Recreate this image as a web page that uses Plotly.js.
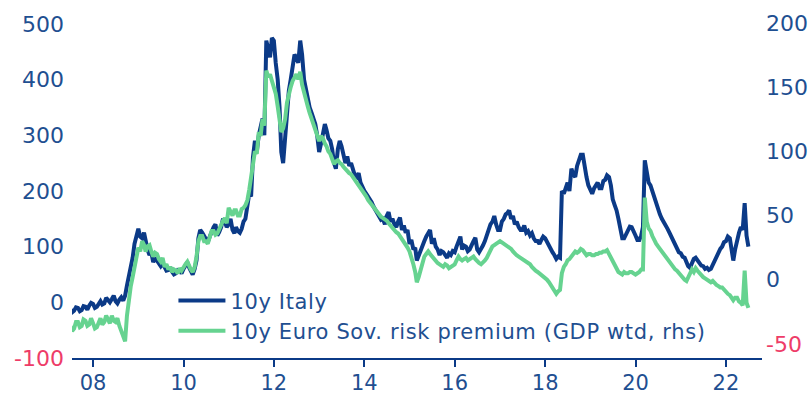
<!DOCTYPE html>
<html>
<head>
<meta charset="utf-8">
<script src="https://cdn.plot.ly/plotly-3.0.1.min.js"></script>
<style>
html,body{margin:0;padding:0;background:#fff;}
#chart{width:811px;height:396px;}
#chart .legendtext{letter-spacing:0.65px;}
#chart .legend .scrollbox{clip-path:none;}
</style>
</head>
<body>
<div id="chart"></div>
<script>
// Semi-monthly observations (1st and 16th of each month), Jul 2007 .. Jul 2022
const startMonth = "2007-07";
const italy10y = [
  -12,-18, -15,-9, -10,-16, -14,-7, -8,-13, -6,-1,                       // 2007 Jul-Dec
  -3,-10, -8,-2, 2,-4, -2,8, 4,0, 6,12, 2,-2, 5,9, 3,12, 30,45, 60,80, 105,120,      // 2008
  132,118, 115,125, 110,95, 85,90, 72,80, 75,68, 65,70, 62,57, 58,63, 55,50, 52,58, 57,52, // 2009
  60,66, 72,62, 55,50, 60,75, 115,130, 125,118, 115,108, 118,128, 135,140, 120,126, 135,150, 145,135, // 2010
  140,150, 130,124, 135,128, 125,132, 145,150, 170,195, 190,260, 290,270, 300,320, 330,300, 470,455, 440,475, // 2011
  470,430, 400,350, 270,250, 300,330, 380,400, 420,445, 440,430, 470,445, 400,380, 370,350, 340,330, 320,300, // 2012
  270,285, 300,320, 310,295, 290,275, 250,240, 275,290, 280,265, 250,262, 245,250, 235,228, 225,232, 215,205, // 2013
  200,195, 190,183, 180,172, 165,160, 155,148, 150,140, 155,162, 145,150, 140,135, 145,152, 130,138, 125,130, // 2014
  105,112, 95,98, 75,85, 90,100, 110,118, 125,130, 105,115, 100,95, 85,92, 90,84, 80,88, 85,92,           // 2015
  90,100, 110,118, 95,102, 100,92, 95,104, 110,116, 95,90, 95,102, 110,120, 130,140, 145,155, 140,130,    // 2016
  130,145, 150,158, 160,165, 150,155, 140,145, 135,130, 130,138, 125,128, 120,124, 115,110, 110,105, 112,118, // 2017
  115,108, 100,95, 90,85, 78,82, 80,200, 195,205, 215,200, 240,230, 225,245, 255,265, 265,240, 225,210,   // 2018
  200,195, 205,212, 215,205, 205,218, 220,228, 225,210, 185,175, 165,150, 130,115, 115,122, 128,136, 135,125, // 2019
  120,112, 112,120, 135,255, 230,215, 210,200, 185,175, 165,158, 150,145, 140,132, 125,118, 110,102, 95,90, // 2020
  88,82, 80,72, 65,62, 72,78, 80,76, 70,66, 65,60, 62,58, 60,68, 75,82, 90,96, 100,108,                    // 2021
  110,118, 115,90, 75,95, 115,125, 135,130, 178,120, 100                                                  // 2022 Jan-Jul
];
const euroSovRisk = [
  -36,-40, -38,-33, -33,-37, -36,-31, -32,-36, -35,-30,
  -34,-38, -37,-32, -30,-35, -33,-28, -31,-34, -28,-32, -33,-30, -36,-40, -45,-48, -28,-15, -5,2, 10,18,
  25,22, 30,27, 22,26, 27,22, 18,21, 20,16, 14,17, 10,12, 8,10, 6,8, 7,5, 9,7,
  10,12, 14,10, 8,6, 10,18, 30,34, 34,30, 30,28, 34,38, 38,35, 36,40, 42,46, 48,44,
  56,52, 50,54, 54,50, 50,55, 56,58, 62,70, 80,92, 100,98, 115,112, 125,120, 163,158, 160,155,
  150,145, 135,125, 115,118, 125,138, 145,150, 155,158, 160,156, 162,152, 145,140, 135,130, 125,122, 118,112,
  108,112, 110,106, 104,100, 98,94, 90,92, 93,91, 90,88, 86,85, 83,82, 80,78, 76,74, 72,70,
  68,65, 62,60, 58,56, 54,52, 50,49, 48,47, 46,44, 42,40, 38,37, 36,34, 32,30, 28,25,
  22,18, 12,6, -2,2, 8,14, 18,20, 22,20, 18,16, 14,13, 12,11, 10,12, 11,9, 10,11,
  12,15, 18,16, 15,16, 17,15, 16,17, 18,16, 14,13, 12,13, 15,17, 20,23, 26,27, 28,29,
  30,29, 28,27, 26,25, 24,22, 20,19, 18,17, 16,15, 14,13, 12,10, 8,7, 6,5, 4,3,
  1,0, -2,-4, -6,-8, -11,-9, -8,5, 10,12, 15,16, 18,20, 22,21, 22,24, 23,21, 19,20,
  20,19, 19,20, 20,21, 21,22, 22,23, 20,17, 14,11, 8,6, 5,4, 6,5, 5,6, 6,5,
  4,5, 6,8, 8,64, 45,40, 38,34, 30,28, 26,24, 22,20, 18,16, 14,12, 10,8, 7,5,
  4,2, 0,-1, 2,6, 8,6, 9,7, 5,3, 2,1, 0,-1, -2,-1, -3,-4, -5,-6, -6,-8,
  -9,-11, -12,-15, -16,-14, -14,-17, -18,-20, 7,-18, -22
];
const leftTicks = [-100,0,100,200,300,400,500];
const rightTicks = [-50,0,50,100,150,200];
const seriesNames = ["10y Italy","10y Euro Sov. risk premium (GDP wtd, rhs)"];

const NAVY = "#0b3a87";
const GREEN = "#66d390";
const LABEL = "#1f4f91";
const PINK = "#ee3c68";

// calendar dates (1st and 16th of each month) for x
const dates = [];
{
  let y = +startMonth.slice(0,4), m = +startMonth.slice(5,7);
  for (let i = 0; i < italy10y.length; i++) {
    const day = (i % 2 === 0) ? "01" : "16";
    dates.push(y + "-" + String(m).padStart(2,"0") + "-" + day);
    if (i % 2 === 1) { m++; if (m > 12) { m = 1; y++; } }
  }
}
const tickText = v => v < 0 ? '<span style="color:' + PINK + '">' + v + '</span>' : String(v);

const FONT = "DejaVu Sans";
const traces = [
  {x: dates, y: italy10y, name: seriesNames[0], type: "scatter", mode: "lines",
   line: {color: NAVY, width: 4}, yaxis: "y"},
  {x: dates, y: euroSovRisk, name: seriesNames[1], type: "scatter", mode: "lines",
   line: {color: GREEN, width: 4}, yaxis: "y2"}
];
const layout = {
  width: 811, height: 396,
  margin: {l: 72, r: 49, t: 20, b: 38},
  paper_bgcolor: "#fff", plot_bgcolor: "#fff",
  font: {family: FONT, size: 22, color: LABEL},
  showlegend: true,
  legend: {x: 0.147, y: 0.23, xanchor: "left", yanchor: "top",
           bgcolor: "rgba(0,0,0,0)", font: {family: FONT, size: 21, color: LABEL},
           tracegroupgap: 0, itemwidth: 47},
  xaxis: {type: "date", range: ["2007-07-15", "2022-10-19"],
          tick0: "2008-01-01", dtick: "M24", tickformat: "%y",
          ticks: "outside", ticklen: 7, tickwidth: 2, tickcolor: NAVY,
          showline: true, linecolor: NAVY, linewidth: 2, showgrid: false, zeroline: false,
          ticklabelstandoff: -2,
          tickfont: {family: FONT, size: 21, color: LABEL}},
  yaxis: {range: [-100, 507], tickvals: leftTicks, ticktext: leftTicks.map(tickText),
          showgrid: false, zeroline: false, showline: false, ticks: "", ticklabelstandoff: 7,
          tickfont: {family: FONT, size: 22, color: LABEL}},
  yaxis2: {range: [-61, 202.3], overlaying: "y", side: "right",
           tickvals: rightTicks, ticktext: rightTicks.map(tickText),
           showgrid: false, zeroline: false, showline: false, ticks: "", ticklabelstandoff: 3,
           tickfont: {family: FONT, size: 22, color: LABEL}}
};
Plotly.newPlot("chart", traces, layout, {displayModeBar: false, staticPlot: true});
</script>
</body>
</html>
